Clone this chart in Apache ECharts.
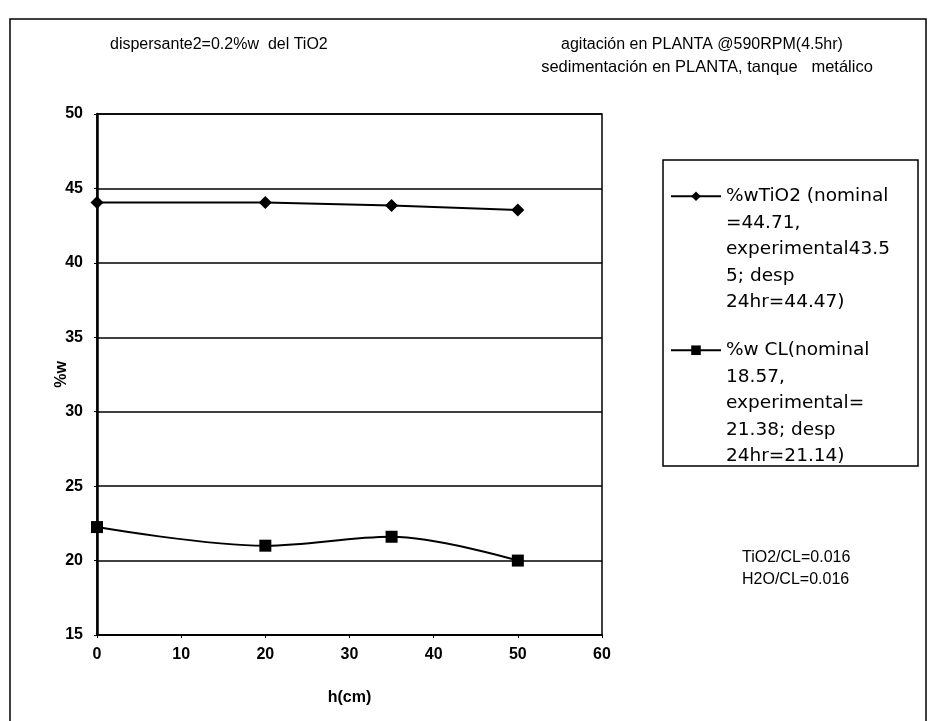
<!DOCTYPE html>
<html>
<head>
<meta charset="utf-8">
<script src="https://cdn.jsdelivr.net/npm/echarts@6/dist/echarts.min.js"></script>
<style>html,body{margin:0;padding:0;background:#fff}#c{width:932px;height:721px}</style>
</head>
<body>
<div id="c"></div>
<script>
var hValues = [0, 20, 35, 50];
var tio2Values = [44.05, 44.05, 43.85, 43.55];
var clValues = [22.25, 21.0, 21.6, 20.0];
var seriesNames = ['TiO2', 'CL'];
var legendLabels = {
  'TiO2': ['%wTiO2 (nominal', '=44.71,', 'experimental43.5', '5; desp', '24hr=44.47)'],
  'CL': ['%w CL(nominal', '18.57,', 'experimental=', '21.38; desp', '24hr=21.14)']
};
var xTicks = {min: 0, max: 60, interval: 10};
var yTicks = {min: 15, max: 50, interval: 5};
var noteLeft = 'dispersante2=0.2%w  del TiO2';
var noteRight = ['agitación en PLANTA @590RPM(4.5hr)', 'sedimentación en PLANTA, tanque   metálico'];
var ratios = ['TiO2/CL=0.016', 'H2O/CL=0.016'];

function pairs(xs, ys) { return xs.map(function (x, i) { return [x, ys[i]]; }); }

var FONT = 'Liberation Sans, Arial, sans-serif';
var chart = echarts.init(document.getElementById('c'), null, {renderer: 'canvas'});

function legendFor(name, top) {
  return {
    show: true,
    data: [name],
    left: 670,
    top: top,
    orient: 'vertical',
    padding: 0,
    itemWidth: 50,
    itemHeight: 12,
    itemGap: 0,
    selectedMode: false,
    formatter: function (n) { return '\n\n\n\n' + legendLabels[n].join('\n'); },
    textStyle: {fontFamily: 'DejaVu Sans, sans-serif', fontSize: 18.5, lineHeight: 26.5, color: '#000'}
  };
}

var option = {
  backgroundColor: '#fff',
  animation: false,
  grid: {left: 97, right: 330, top: 114, bottom: 86, show: true, borderColor: '#000', borderWidth: 1.5},
  xAxis: {
    type: 'value', min: xTicks.min, max: xTicks.max, interval: xTicks.interval,
    name: 'h(cm)', nameLocation: 'middle', nameGap: 55, nameMoveOverlap: false,
    nameTextStyle: {fontFamily: FONT, fontSize: 16, fontWeight: 'bold', color: '#000'},
    axisLine: {show: true, onZero: false, lineStyle: {color: '#000', width: 2}},
    axisTick: {show: true, length: 3, lineStyle: {color: '#000'}},
    axisLabel: {fontFamily: FONT, fontSize: 16, fontWeight: 'bold', color: '#000', margin: 12},
    splitLine: {show: false}
  },
  yAxis: {
    type: 'value', min: yTicks.min, max: yTicks.max, interval: yTicks.interval,
    name: '%w', nameLocation: 'middle', nameGap: 27, nameMoveOverlap: false,
    nameTextStyle: {fontFamily: FONT, fontSize: 16, fontWeight: 'bold', color: '#000'},
    axisLine: {show: true, lineStyle: {color: '#000', width: 2.5}},
    axisTick: {show: true, length: 3, lineStyle: {color: '#000'}},
    axisLabel: {fontFamily: FONT, fontSize: 16, fontWeight: 'bold', color: '#000', margin: 14},
    splitLine: {show: true, lineStyle: {color: '#000', width: 1.5}}
  },
  legend: [legendFor('TiO2', 77), legendFor('CL', 231)],
  series: [
    {
      name: 'TiO2', type: 'line', data: pairs(hValues, tio2Values),
      symbol: 'diamond', symbolSize: 13,
      lineStyle: {color: '#000', width: 2}, itemStyle: {color: '#000'}
    },
    {
      name: 'CL', type: 'line', data: pairs(hValues, clValues), smooth: 0.35,
      symbol: 'rect', symbolSize: 12,
      lineStyle: {color: '#000', width: 2}, itemStyle: {color: '#000'}
    }
  ],
  graphic: [
    {type: 'polyline', shape: {points: [[10, 721], [10, 19], [926, 19], [926, 721]]}, style: {stroke: '#000', lineWidth: 1.5, fill: null}},
    {type: 'rect', shape: {x: 663, y: 160, width: 255, height: 306}, style: {stroke: '#000', lineWidth: 1.5, fill: null}},
    {type: 'text', x: 110, y: 45, style: {text: noteLeft, fontFamily: FONT, fontSize: 16, fill: '#000', verticalAlign: 'middle'}},
    {type: 'text', x: 702, y: 45, style: {text: noteRight[0], fontFamily: FONT, fontSize: 16, fill: '#000', align: 'center', verticalAlign: 'middle'}},
    {type: 'text', x: 707, y: 67, style: {text: noteRight[1], fontFamily: FONT, fontSize: 16.5, fill: '#000', align: 'center', verticalAlign: 'middle'}},
    {type: 'text', x: 742, y: 558, style: {text: ratios[0], fontFamily: FONT, fontSize: 16, fill: '#000', verticalAlign: 'middle'}},
    {type: 'text', x: 742, y: 580, style: {text: ratios[1], fontFamily: FONT, fontSize: 16, fill: '#000', verticalAlign: 'middle'}}
  ]
};
chart.setOption(option);
</script>
</body>
</html>
